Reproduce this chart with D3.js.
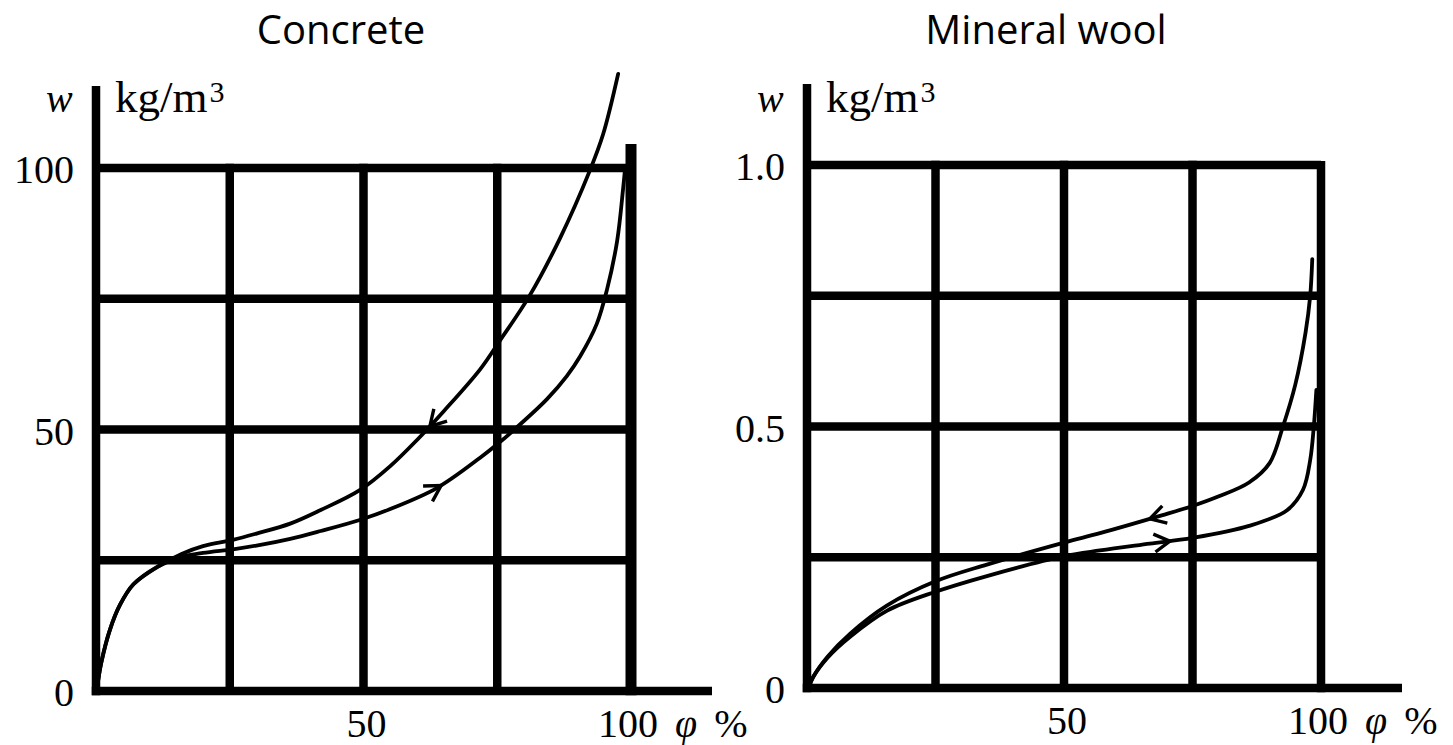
<!DOCTYPE html>
<html>
<head>
<meta charset="utf-8">
<script src="https://cdn.jsdelivr.net/npm/d3@7"></script>
<style>
  body { margin: 0; background: #fff; }
  svg { display: block; }
  .tick-label { font-family: 'Liberation Serif', 'DejaVu Serif', serif; font-size: 40px; fill: #000; }
  .title { font-family: 'Open Sans', 'Liberation Sans', sans-serif; font-size: 40px; fill: #000; }
</style>
</head>
<body>
<svg id="chart" width="1453" height="745"></svg>
<script>
// relative humidity grid, shared by both panels
const phiGrid = [0, 25, 50, 75, 100];
const phiLabels = [50];

// concrete: sorption (up) and desorption (down) branches
const concreteGrid = [0, 25, 50, 75, 100];
const concreteLabels = [0, 50, 100];
const concreteAdsPhi = [0.4, 1, 2.6, 4.5, 7, 11.4, 16, 20, 25.6, 30, 36.3, 42, 49.3, 55, 63.7, 71.8, 75.5, 79.3, 84.3, 88, 90.5, 93.6, 95.5, 97.4, 98.5, 98.9];
const concreteAdsW = [2, 5.5, 11.7, 16.5, 20.4, 23.7, 25.6, 26.4, 27.1, 27.8, 29.1, 30.6, 32.7, 34.8, 38.8, 44.6, 47.6, 51, 55.8, 60.2, 64, 70.2, 76.7, 86, 95.8, 100];
const concreteDesPhi = [0.4, 1, 2.6, 4.5, 7, 11.4, 16, 20, 25.6, 30, 36.3, 42, 49.3, 55, 60, 65, 71.8, 75.5, 81, 86.7, 92.3, 94.8, 97.6];
const concreteDesW = [2, 5.5, 11.7, 16.5, 20.4, 23.7, 26.2, 27.7, 28.9, 30.1, 32, 34.6, 38.4, 43, 48, 53.5, 61.5, 67, 75.5, 86.5, 99.5, 106.5, 118];

// mineral wool
const woolGrid = [0, 0.25, 0.5, 0.75, 1.0];
const woolLabels = [0, 0.5, 1.0];
const woolAdsPhi = [0.5, 1.2, 4, 8.4, 15.6, 25, 35, 50, 57, 66.7, 75, 86, 93.4, 96.5, 97.9, 98.6, 99.1];
const woolAdsW = [0.005, 0.021, 0.058, 0.098, 0.148, 0.184, 0.214, 0.252, 0.263, 0.276, 0.287, 0.31, 0.34, 0.379, 0.436, 0.5, 0.57];
const woolDesPhi = [0.5, 1.2, 4, 8.4, 15.6, 25, 35, 50, 57, 69, 75, 80, 86, 90, 92.6, 95, 97, 97.9, 98.3];
const woolDesW = [0.005, 0.021, 0.06, 0.104, 0.158, 0.204, 0.236, 0.278, 0.296, 0.33, 0.348, 0.366, 0.393, 0.43, 0.5, 0.58, 0.68, 0.75, 0.82];

const svg = d3.select('#chart');
const gridWidth = 8.5;

const panels = [
  {
    title: 'Concrete', titleX: 341,
    x: [96, 631], y: [691, 168], yMax: 100,
    grid: concreteGrid, labels: concreteLabels, fmt: d3.format('d'),
    xAxisEnd: 712, rightTop: 144, rightWidth: 11, yTop: 86,
    ads: { phi: concreteAdsPhi, w: concreteAdsW, arrow: 64.5 },
    des: { phi: concreteDesPhi, w: concreteDesW, arrow: 62.4 },
  },
  {
    title: 'Mineral wool', titleX: 1046,
    x: [807, 1321], y: [688, 165], yMax: 1,
    grid: woolGrid, labels: woolLabels, fmt: d3.format('.1f'),
    xAxisEnd: 1402, rightTop: 161, rightWidth: 8.5, yTop: 84,
    ads: { phi: woolAdsPhi, w: woolAdsW, arrow: 70.6 },
    des: { phi: woolDesPhi, w: woolDesW, arrow: 66.7 },
  },
];

panels.forEach(drawPanel);

function drawPanel(p) {
  const x = d3.scaleLinear().domain([0, 100]).range(p.x);
  const y = d3.scaleLinear().domain([0, p.yMax]).range(p.y);
  const g = svg.append('g');

  g.append('text').attr('class', 'title')
    .attr('x', p.titleX).attr('y', 44)
    .attr('text-anchor', 'middle').text(p.title);

  // horizontal grid lines (bottom one is the phi axis, drawn below)
  g.selectAll('.hgrid').data(p.grid.slice(1)).join('line')
    .attr('x1', x(0)).attr('x2', x(100))
    .attr('y1', d => y(d)).attr('y2', d => y(d))
    .attr('stroke', '#000').attr('stroke-width', gridWidth);

  // vertical grid lines
  g.selectAll('.vgrid').data(phiGrid.slice(1, -1)).join('line')
    .attr('x1', d => x(d)).attr('x2', d => x(d))
    .attr('y1', y(p.yMax) - gridWidth / 2).attr('y2', y(0))
    .attr('stroke', '#000').attr('stroke-width', gridWidth);

  // right border at phi = 100
  g.append('line')
    .attr('x1', x(100)).attr('x2', x(100))
    .attr('y1', p.rightTop).attr('y2', y(0) + gridWidth / 2)
    .attr('stroke', '#000').attr('stroke-width', p.rightWidth);

  // axes
  g.append('line')
    .attr('x1', x(0)).attr('x2', x(0))
    .attr('y1', p.yTop).attr('y2', y(0) + gridWidth / 2)
    .attr('stroke', '#000').attr('stroke-width', gridWidth);
  g.append('line')
    .attr('x1', x(0) - gridWidth / 2).attr('x2', p.xAxisEnd)
    .attr('y1', y(0)).attr('y2', y(0))
    .attr('stroke', '#000').attr('stroke-width', gridWidth);

  // y tick labels
  g.selectAll('.ylab').data(p.labels).join('text')
    .attr('class', 'tick-label')
    .attr('x', x(0) - 22).attr('y', d => y(d) + 15)
    .attr('text-anchor', 'end')
    .text(d => (d === 0 ? '0' : p.fmt(d)));

  // phi tick labels
  g.selectAll('.xlab').data(phiLabels).join('text')
    .attr('class', 'tick-label')
    .attr('x', d => x(d) + 3).attr('y', y(0) + 46)
    .attr('text-anchor', 'middle').text(d => d);

  const last = g.append('text').attr('class', 'tick-label')
    .attr('x', x(100) - 33).attr('y', y(0) + 46);
  last.append('tspan').text('100');
  last.append('tspan').attr('dx', 17).attr('font-style', 'italic').text('φ');
  last.append('tspan').attr('dx', 17).text('%');

  // unit label
  const unit = g.append('text').attr('class', 'tick-label').attr('y', 112);
  unit.append('tspan').attr('x', x(0) - 50).attr('font-style', 'italic').text('w');
  unit.append('tspan').attr('x', x(0) + 19).attr('font-size', 45).text('kg/m');
  unit.append('tspan').attr('dx', 2).attr('dy', -10).attr('font-size', 30).text('3');

  // curves
  const line = d3.line()
    .x(d => x(d[0])).y(d => y(d[1]))
    .curve(d3.curveCatmullRom.alpha(0.5));

  [['ads', 1], ['des', -1]].forEach(([key, dir]) => {
    const s = p[key];
    const pts = s.phi.map((v, i) => [v, s.w[i]]);
    const path = g.append('path')
      .attr('d', line(pts))
      .attr('fill', 'none').attr('stroke', '#000')
      .attr('stroke-width', 3.8).attr('stroke-linecap', 'round');
    drawArrow(g, path.node(), x(s.arrow), dir);
  });
}

// open "V" arrowhead on the path where it crosses screen x = px
function drawArrow(g, node, px, dir) {
  const total = node.getTotalLength();
  let lo = 0, hi = total;
  for (let i = 0; i < 40; i++) {
    const mid = (lo + hi) / 2;
    if (node.getPointAtLength(mid).x < px) lo = mid; else hi = mid;
  }
  const tip = node.getPointAtLength(lo);
  const a = node.getPointAtLength(Math.max(0, lo - 2));
  const b = node.getPointAtLength(Math.min(total, lo + 2));
  let ang = Math.atan2(b.y - a.y, b.x - a.x);
  if (dir < 0) ang += Math.PI;
  const len = 18, spread = Math.PI / 6;
  const p1 = [tip.x - len * Math.cos(ang - spread), tip.y - len * Math.sin(ang - spread)];
  const p2 = [tip.x - len * Math.cos(ang + spread), tip.y - len * Math.sin(ang + spread)];
  g.append('path')
    .attr('d', `M${p1[0]},${p1[1]}L${tip.x},${tip.y}L${p2[0]},${p2[1]}`)
    .attr('fill', 'none').attr('stroke', '#000')
    .attr('stroke-width', 3.4).attr('stroke-linejoin', 'miter');
}
</script>
</body>
</html>
